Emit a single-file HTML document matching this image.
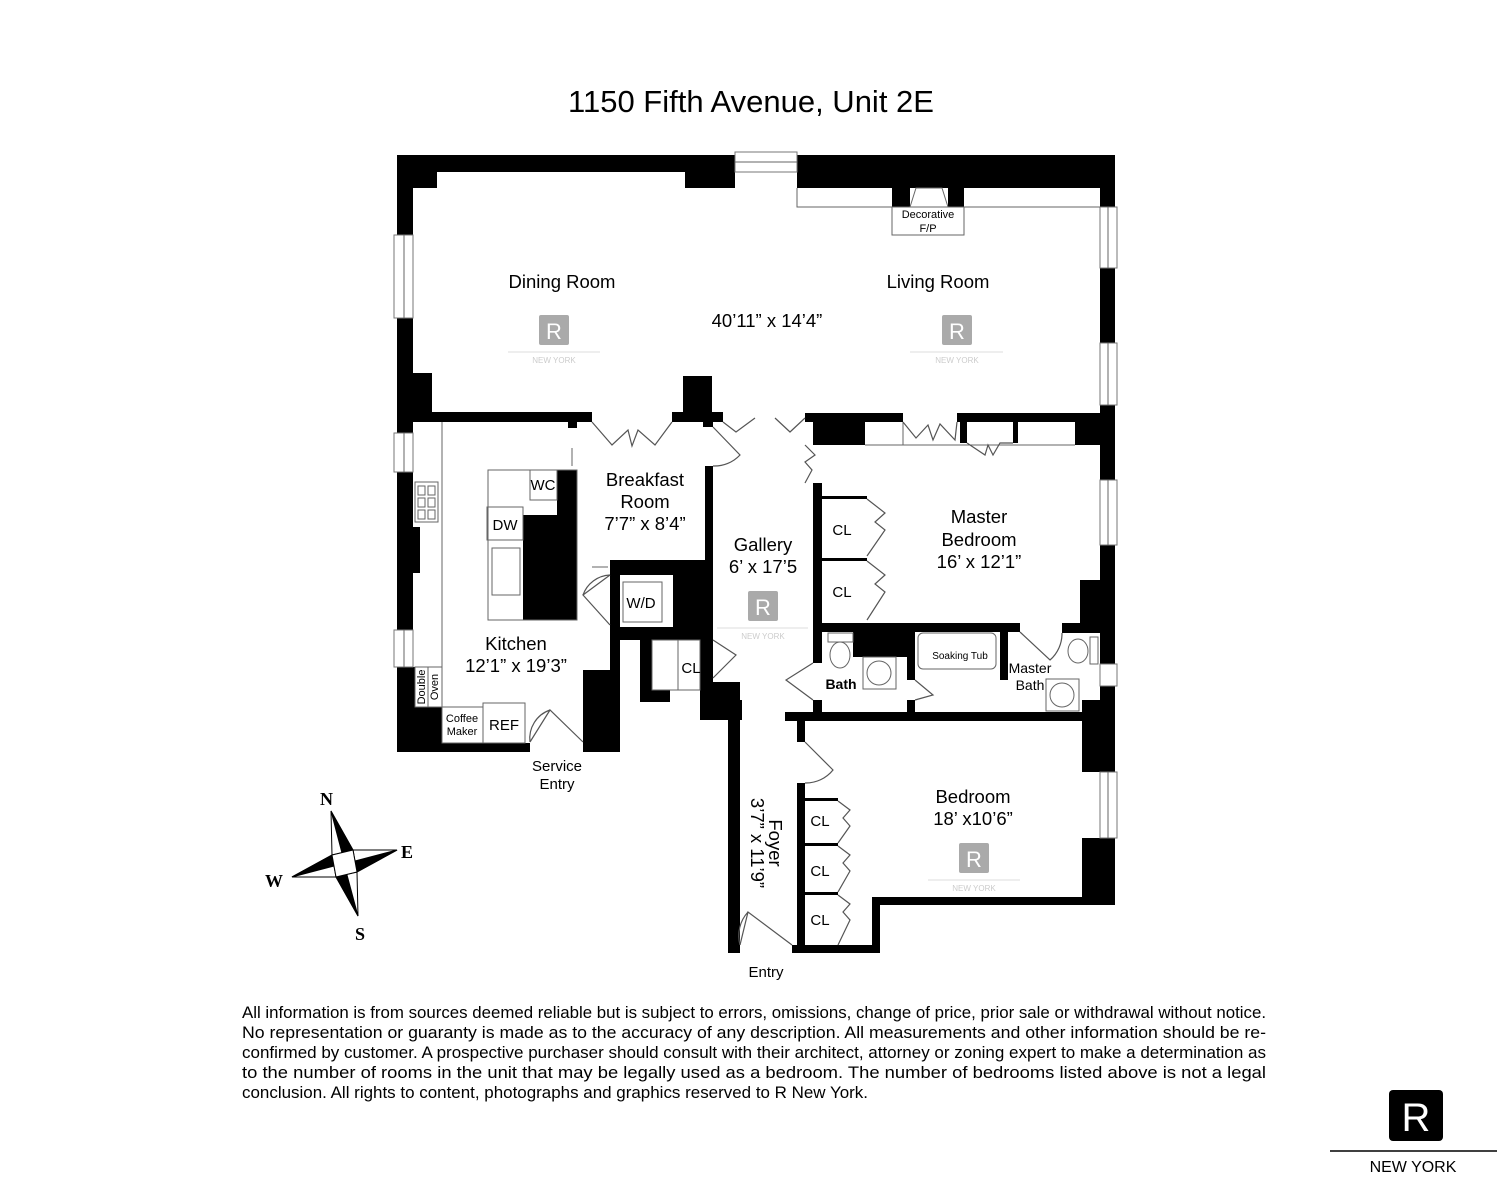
<!DOCTYPE html>
<html><head><meta charset="utf-8"><style>
html,body{margin:0;padding:0;background:#fff;}
svg{display:block;}
text{font-family:"Liberation Sans",Arial,sans-serif;fill:#000;}
.t{font-size:18.5px;text-anchor:middle;}
.s{font-size:15px;text-anchor:middle;}
.x{font-size:11px;text-anchor:middle;}
.d{fill:none;stroke:#555;stroke-width:1.2;}
.l{fill:none;stroke:#666;stroke-width:1;}
.wm{fill:#aaa;}
</style></head><body>
<svg width="1508" height="1183" viewBox="0 0 1508 1183" xmlns="http://www.w3.org/2000/svg">
<text x="751" y="112" style="font-size:31px;text-anchor:middle">1150 Fifth Avenue, Unit 2E</text>

<g fill="#000">
<rect x="397" y="155" width="338" height="17"/>
<rect x="397" y="155" width="40" height="33"/>
<rect x="685" y="155" width="50" height="33"/>
<rect x="797" y="155" width="318" height="33"/>
<rect x="892" y="183" width="18" height="24"/>
<rect x="948" y="183" width="16" height="24"/>
<rect x="397" y="155" width="16" height="597"/>
<rect x="397" y="373" width="35" height="45"/>
<rect x="397" y="527" width="23" height="46"/>
<rect x="1100" y="155" width="15" height="750"/>
<rect x="397" y="412" width="195" height="10"/>
<rect x="568" y="412" width="9" height="16"/>
<rect x="683" y="376" width="29" height="40"/>
<rect x="672" y="412" width="51" height="10"/>
<rect x="703" y="412" width="10" height="15"/>
<rect x="397" y="667" width="18" height="85"/>
<rect x="397" y="707" width="45" height="45"/>
<rect x="397" y="743" width="133" height="9"/>
<rect x="583" y="743" width="37" height="9"/>
<rect x="583" y="670" width="30" height="82"/>
<rect x="610" y="627" width="10" height="125"/>
<rect x="523" y="515" width="54" height="105"/>
<rect x="557" y="470" width="20" height="50"/>
<rect x="705" y="466" width="8" height="175"/>
<rect x="610" y="560" width="103" height="15"/>
<rect x="610" y="560" width="10" height="70"/>
<rect x="673" y="560" width="40" height="80"/>
<rect x="610" y="627" width="103" height="13"/>
<rect x="640" y="640" width="12" height="62"/>
<rect x="640" y="690" width="30" height="12"/>
<rect x="700" y="640" width="13" height="62"/>
<rect x="703" y="682" width="37" height="38"/>
<rect x="805" y="413" width="98" height="9"/>
<rect x="813" y="413" width="52" height="32"/>
<rect x="957" y="413" width="143" height="9"/>
<rect x="960" y="413" width="7" height="30"/>
<rect x="1013" y="413" width="5" height="30"/>
<rect x="1075" y="413" width="25" height="32"/>
<rect x="813" y="483" width="9" height="180"/>
<rect x="822" y="496" width="45" height="3"/>
<rect x="822" y="558" width="45" height="3"/>
<rect x="813" y="623" width="207" height="9"/>
<rect x="853" y="623" width="62" height="34"/>
<rect x="907" y="623" width="8" height="57"/>
<rect x="1000" y="623" width="8" height="57"/>
<rect x="1080" y="580" width="20" height="53"/>
<rect x="1062" y="623" width="38" height="10"/>
<rect x="785" y="712" width="315" height="9"/>
<rect x="813" y="700" width="9" height="14"/>
<rect x="907" y="700" width="8" height="14"/>
<rect x="700" y="700" width="42" height="20"/>
<rect x="728" y="700" width="12" height="253"/>
<rect x="797" y="713" width="8" height="29"/>
<rect x="797" y="783" width="8" height="170"/>
<rect x="805" y="798" width="33" height="3"/>
<rect x="805" y="843" width="33" height="3"/>
<rect x="805" y="892" width="33" height="3"/>
<rect x="1082" y="700" width="33" height="72"/>
<rect x="1082" y="838" width="33" height="67"/>
<rect x="872" y="897" width="243" height="8"/>
<rect x="872" y="897" width="8" height="56"/>
<rect x="792" y="945" width="88" height="8"/>
</g>

<g fill="#fff" stroke="#777" stroke-width="1">
<rect x="735" y="152" width="62" height="20"/>
<rect x="394" y="235" width="19" height="83"/>
<rect x="394" y="433" width="19" height="39"/>
<rect x="394" y="630" width="19" height="37"/>
<rect x="1100" y="207" width="17" height="61"/>
<rect x="1100" y="343" width="17" height="62"/>
<rect x="1100" y="480" width="17" height="65"/>
<rect x="1100" y="664" width="17" height="22"/>
<rect x="1100" y="772" width="17" height="66"/>
</g>
<g class="l">
<line x1="735" y1="162" x2="797" y2="162"/>
<line x1="404" y1="235" x2="404" y2="318"/>
<line x1="404" y1="433" x2="404" y2="472"/>
<line x1="404" y1="630" x2="404" y2="667"/>
<line x1="1108" y1="207" x2="1108" y2="268"/>
<line x1="1108" y1="343" x2="1108" y2="405"/>
<line x1="1108" y1="480" x2="1108" y2="545"/>
<line x1="1108" y1="772" x2="1108" y2="838"/>
<polyline points="797,188 797,207 892,207"/>
<line x1="964" y1="207" x2="1100" y2="207"/>
<rect x="892" y="207" width="72" height="28" fill="#fff"/>
<polyline points="910,207 916,188 942,188 948,207"/>
<line x1="442" y1="422" x2="442" y2="707"/>
<rect x="415" y="482" width="23" height="40"/>
<rect x="418" y="486" width="7" height="9"/><rect x="428" y="486" width="7" height="9"/>
<rect x="418" y="498" width="7" height="9"/><rect x="428" y="498" width="7" height="9"/>
<rect x="418" y="510" width="7" height="9"/><rect x="428" y="510" width="7" height="9"/>
<rect x="488" y="470" width="89" height="150"/>
<rect x="530" y="470" width="27" height="30"/>
<rect x="487" y="507" width="36" height="33"/>
<rect x="492" y="548" width="28" height="47"/>
<line x1="572" y1="448" x2="572" y2="466"/>
<line x1="592" y1="567" x2="608" y2="567"/>
<rect x="415" y="667" width="27" height="40" fill="#fff"/>
<line x1="428" y1="667" x2="428" y2="707"/>
<rect x="442" y="707" width="41" height="36" fill="#fff"/>
<rect x="483" y="703" width="42" height="40" fill="#fff"/>
<rect x="623" y="582" width="39" height="40"/>
<rect x="652" y="640" width="48" height="50"/>
<line x1="678" y1="640" x2="678" y2="690"/>
<line x1="865" y1="445" x2="1075" y2="445"/>
<line x1="903" y1="422" x2="903" y2="445"/>
<rect x="828" y="633" width="25" height="9"/>
<ellipse cx="840" cy="655" rx="10" ry="13"/>
<rect x="863" y="657" width="33" height="32"/>
<circle cx="879" cy="673" r="12"/>
<rect x="918" y="633" width="78" height="36" rx="5"/>
<rect x="1090" y="637" width="8" height="27"/>
<ellipse cx="1078" cy="651" rx="10" ry="12"/>
<rect x="1046" y="679" width="33" height="32"/>
<circle cx="1062" cy="695" r="12"/>
</g>

<g class="d">
<polyline points="592,422 612,445 628,430 632,446 638,430 655,445 672,422"/>
<path d="M713,427 L740,455 A35,35 0 0 1 713,466"/>
<polyline points="723,422 736,432 755,418"/>
<polyline points="775,418 790,432 805,418"/>
<polyline points="805,445 815,455 805,462 812,470 805,483"/>
<polyline points="903,422 916,438 928,425 933,440 940,424 955,440 957,422"/>
<polyline points="967,443 985,455 988,445 993,455 1000,443 1013,443"/>
<polyline points="867,499 885,513 875,522 885,530 867,556"/>
<polyline points="867,561 885,575 875,584 885,592 867,620"/>
<path d="M610,575 L583,595 L610,625"/>
<path d="M583,595 A30,30 0 0 1 610,575"/>
<path d="M530,742 L550,710 L583,742"/>
<path d="M530,742 A30,30 0 0 1 550,710"/>
<path d="M713,640 L736,655 L713,678"/>
<path d="M813,663 L786,680 L813,700"/>
<path d="M915,680 L933,695 L915,700"/>
<path d="M1020,632 L1050,660 A35,35 0 0 0 1062,633"/>
<path d="M805,742 L833,770 A35,35 0 0 1 805,783"/>
<polyline points="838,801 850,810 843,818 850,826 838,843"/>
<polyline points="838,846 850,855 843,863 850,871 838,892"/>
<polyline points="838,895 850,904 843,912 850,920 838,945"/>
<path d="M740,945 L748,912 L792,945"/>
<path d="M740,945 A35,35 0 0 1 748,912"/>
</g>

<g>
<rect x="539" y="315" width="30" height="30" rx="2" class="wm"/>
<text x="554" y="339" style="font-size:22px;text-anchor:middle;fill:#fff">R</text>
<line x1="508" y1="352" x2="600" y2="352" stroke="#ddd"/>
<text x="554" y="363" style="font-size:8px;text-anchor:middle;fill:#ccc">NEW YORK</text>
<rect x="942" y="315" width="30" height="30" rx="2" class="wm"/>
<text x="957" y="339" style="font-size:22px;text-anchor:middle;fill:#fff">R</text>
<line x1="910" y1="352" x2="1003" y2="352" stroke="#ddd"/>
<text x="957" y="363" style="font-size:8px;text-anchor:middle;fill:#ccc">NEW YORK</text>
<rect x="748" y="591" width="30" height="30" rx="2" class="wm"/>
<text x="763" y="615" style="font-size:22px;text-anchor:middle;fill:#fff">R</text>
<line x1="717" y1="628" x2="808" y2="628" stroke="#ddd"/>
<text x="763" y="639" style="font-size:8px;text-anchor:middle;fill:#ccc">NEW YORK</text>
<rect x="959" y="843" width="30" height="30" rx="2" class="wm"/>
<text x="974" y="867" style="font-size:22px;text-anchor:middle;fill:#fff">R</text>
<line x1="928" y1="880" x2="1020" y2="880" stroke="#ddd"/>
<text x="974" y="891" style="font-size:8px;text-anchor:middle;fill:#ccc">NEW YORK</text>
</g>

<text class="t" x="562" y="288">Dining Room</text>
<text class="t" x="938" y="288">Living Room</text>
<text class="t" x="767" y="327">40’11” x 14’4”</text>
<text class="x" x="928" y="218">Decorative</text>
<text class="x" x="928" y="232">F/P</text>
<text class="t" x="645" y="486">Breakfast</text>
<text class="t" x="645" y="508">Room</text>
<text class="t" x="645" y="530">7’7” x 8’4”</text>
<text class="t" x="763" y="551">Gallery</text>
<text class="t" x="763" y="573">6’ x 17’5</text>
<text class="t" x="979" y="523">Master</text>
<text class="t" x="979" y="546">Bedroom</text>
<text class="t" x="979" y="568">16’ x 12’1”</text>
<text class="s" x="842" y="535">CL</text>
<text class="s" x="842" y="597">CL</text>
<text class="s" x="641" y="608">W/D</text>
<text class="s" x="691" y="673">CL</text>
<text class="t" x="516" y="650">Kitchen</text>
<text class="t" x="516" y="672">12’1” x 19’3”</text>
<text class="s" x="543" y="490">WC</text>
<text class="s" x="505" y="530">DW</text>
<text class="x" transform="translate(425,687) rotate(-90)">Double</text>
<text class="x" transform="translate(438,687) rotate(-90)">Oven</text>
<text class="x" x="462" y="722">Coffee</text>
<text class="x" x="462" y="735">Maker</text>
<text class="s" x="504" y="730">REF</text>
<text class="s" x="557" y="771">Service</text>
<text class="s" x="557" y="789">Entry</text>
<text x="841" y="689" style="font-size:14px;text-anchor:middle;font-weight:bold">Bath</text>
<text x="960" y="659" style="font-size:10px;text-anchor:middle">Soaking Tub</text>
<text x="1030" y="673" style="font-size:14px;text-anchor:middle">Master</text>
<text x="1030" y="690" style="font-size:14px;text-anchor:middle">Bath</text>
<text class="t" x="973" y="803">Bedroom</text>
<text class="t" x="973" y="825">18’ x10’6”</text>
<text class="s" x="820" y="826">CL</text>
<text class="s" x="820" y="876">CL</text>
<text class="s" x="820" y="925">CL</text>
<text class="t" transform="translate(769,843) rotate(90)">Foyer</text>
<text class="t" transform="translate(751,843) rotate(90)">3’7” x 11’9”</text>
<text class="s" x="766" y="977">Entry</text>

<g stroke="#000" stroke-width="1">
<polygon points="331,811 353,850 332,855" fill="#fff"/>
<polygon points="331,811 353,850 342,853" fill="#000"/>
<polygon points="397,850 357,872 353,850" fill="#fff"/>
<polygon points="397,850 355,861 357,872" fill="#000"/>
<polygon points="358,916 336,877 357,872" fill="#fff"/>
<polygon points="358,916 347,875 336,877" fill="#000"/>
<polygon points="292,877 332,855 336,877" fill="#fff"/>
<polygon points="292,877 334,866 332,855" fill="#000"/>
<polygon points="332,855 353,850 357,872 336,877" fill="#fff"/>
</g>
<text x="320" y="805" style="font-family:'Liberation Serif',serif;font-weight:bold;font-size:18px">N</text>
<text x="401" y="858" style="font-family:'Liberation Serif',serif;font-weight:bold;font-size:18px">E</text>
<text x="355" y="940" style="font-family:'Liberation Serif',serif;font-weight:bold;font-size:18px">S</text>
<text x="265" y="887" style="font-family:'Liberation Serif',serif;font-weight:bold;font-size:18px">W</text>

<g style="font-size:16.3px">
<text x="242" y="1018" textLength="1024" lengthAdjust="spacingAndGlyphs">All information is from sources deemed reliable but is subject to errors, omissions, change of price, prior sale or withdrawal without notice.</text>
<text x="242" y="1038" textLength="1024" lengthAdjust="spacingAndGlyphs">No representation or guaranty is made as to the accuracy of any description.  All measurements and other information should be re-</text>
<text x="242" y="1058" textLength="1024" lengthAdjust="spacingAndGlyphs">confirmed by customer. A prospective purchaser should consult with their architect, attorney or zoning expert to make a determination as</text>
<text x="242" y="1078" textLength="1024" lengthAdjust="spacingAndGlyphs">to the number of rooms in the unit that may be legally used as a bedroom.  The number of bedrooms listed above is not a legal</text>
<text x="242" y="1098" textLength="626" lengthAdjust="spacingAndGlyphs">conclusion.  All rights to content, photographs and graphics reserved to R New York.</text>
</g>

<rect x="1389" y="1090" width="54" height="51" rx="4" fill="#000"/>
<text x="1416" y="1131" style="font-size:40px;text-anchor:middle;fill:#fff">R</text>
<line x1="1330" y1="1151" x2="1497" y2="1151" stroke="#000" stroke-width="1.5"/>
<text x="1413" y="1172" style="font-size:16px;text-anchor:middle">NEW YORK</text>
</svg>
</body></html>
